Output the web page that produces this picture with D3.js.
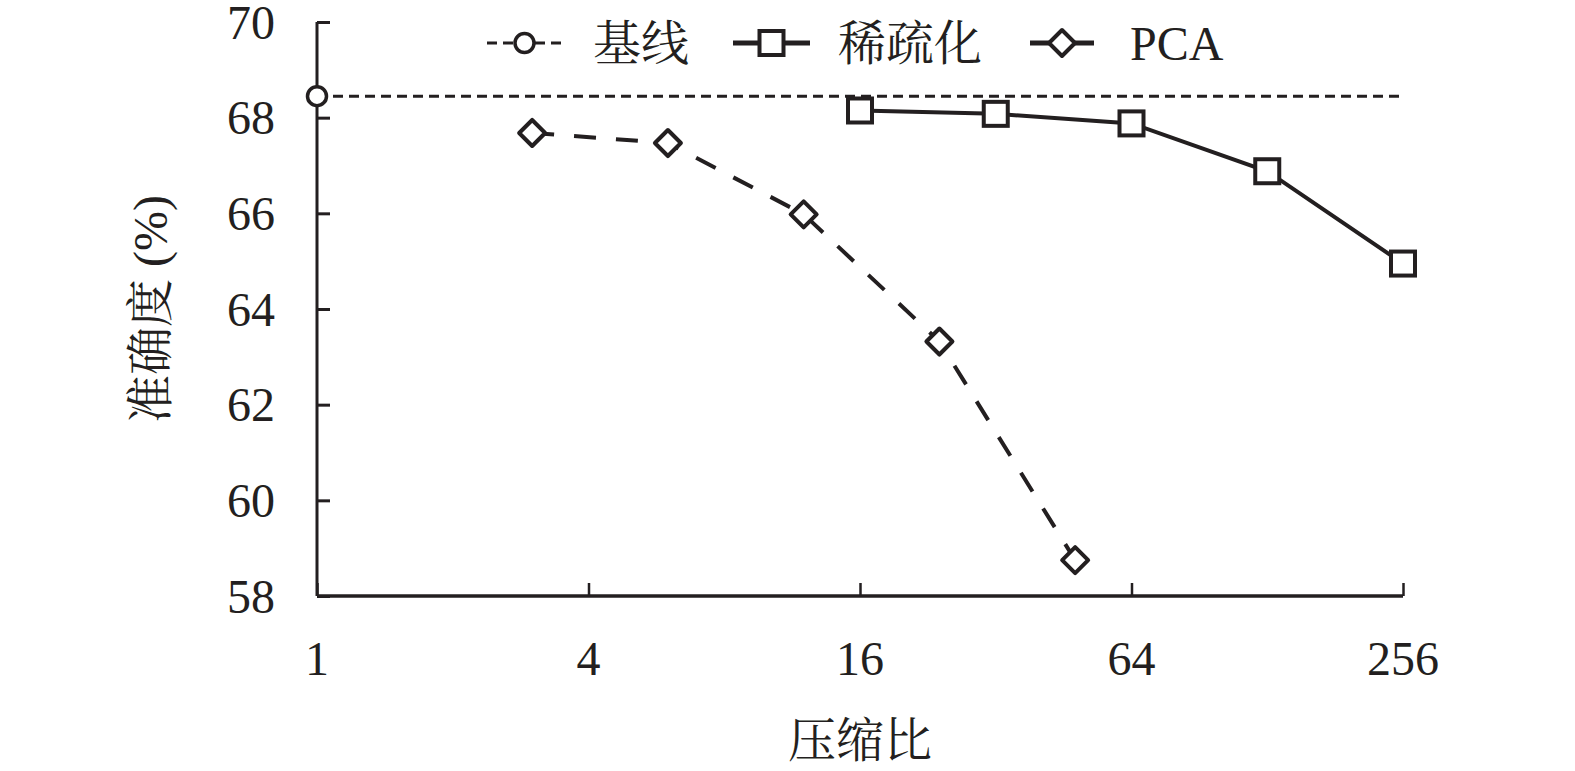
<!DOCTYPE html>
<html>
<head>
<meta charset="utf-8">
<script src="https://cdn.jsdelivr.net/npm/d3@7"></script>
<style>
  body { margin: 0; background: #fff; }
  svg { display: block; }
  text { font-family: "Liberation Serif", "Noto Serif CJK SC", "Noto Sans CJK SC", serif; fill: #231f20; }
</style>
</head>
<body>
<svg id="chart"></svg>
<script>
// data
const baselineRatio = 1;
const baselineAcc = 68.45;
const sparseRatios = [16, 32, 64, 128, 256];
const sparseAcc = [68.15, 68.08, 67.88, 66.88, 64.95];
const pcaRatios = [3, 6, 12, 24, 48];
const pcaAcc = [67.68, 67.47, 65.98, 63.32, 58.75];
const xTicks = [1, 4, 16, 64, 256];
const yTicks = [58, 60, 62, 64, 66, 68, 70];
const legendNames = ["基线", "稀疏化", "PCA"];

const config = {
    width: 1575,
    height: 771,
    margin: { top: 22, right: 172, bottom: 175, left: 317 },
    ink: "#231f20",
    fontSize: 48
};

const svg = d3.select("#chart")
    .attr("width", config.width)
    .attr("height", config.height);

const innerW = config.width - config.margin.left - config.margin.right;
const innerH = config.height - config.margin.top - config.margin.bottom;

const chart = svg.append("g")
    .attr("transform", `translate(${config.margin.left}, ${config.margin.top})`);

const x = d3.scaleLog().base(2).domain([1, 256]).range([0, innerW]);
const y = d3.scaleLinear().domain([58, 70]).range([innerH, 0]);

// axes
const yAxis = chart.append("g")
    .call(d3.axisRight(y).tickValues(yTicks).tickSize(13).tickFormat(""));
yAxis.select(".domain").attr("stroke", config.ink).attr("stroke-width", 3)
    .attr("d", `M0,0V${innerH}`);
yAxis.selectAll(".tick line").attr("stroke", config.ink).attr("stroke-width", 3);

yTicks.forEach(v => {
    chart.append("text")
        .attr("x", -42)
        .attr("y", y(v))
        .attr("dy", "0.35em")
        .attr("text-anchor", "end")
        .style("font-size", config.fontSize)
        .text(v);
});

const xAxis = chart.append("g")
    .attr("transform", `translate(0, ${innerH})`)
    .call(d3.axisTop(x).tickValues(xTicks).tickSize(13).tickFormat(""));
xAxis.select(".domain").attr("stroke", config.ink).attr("stroke-width", 3.5)
    .attr("d", `M0,0H${innerW}`);
xAxis.selectAll(".tick line").attr("stroke", config.ink).attr("stroke-width", 2.5);

xTicks.forEach(v => {
    chart.append("text")
        .attr("x", x(v))
        .attr("y", innerH + 79)
        .attr("text-anchor", "middle")
        .style("font-size", config.fontSize)
        .text(v);
});

svg.append("text")
    .attr("x", config.margin.left + x(16))
    .attr("y", 757)
    .attr("text-anchor", "middle")
    .style("font-size", config.fontSize)
    .text("压缩比");

svg.append("text")
    .attr("transform", `translate(167, ${config.margin.top + y(64)}) rotate(-90)`)
    .attr("text-anchor", "middle")
    .style("font-size", config.fontSize)
    .text("准确度 (%)");

// markers
function circleMark(g, cx, cy) {
    g.append("circle").attr("cx", cx).attr("cy", cy).attr("r", 9.5)
        .attr("fill", "#fff").attr("stroke", config.ink).attr("stroke-width", 3.5);
}
function squareMark(g, cx, cy) {
    g.append("rect").attr("x", cx - 12).attr("y", cy - 12).attr("width", 24).attr("height", 24)
        .attr("fill", "#fff").attr("stroke", config.ink).attr("stroke-width", 4);
}
function diamondMark(g, cx, cy) {
    const r = 13;
    g.append("path").attr("d", `M${cx},${cy - r}L${cx + r},${cy}L${cx},${cy + r}L${cx - r},${cy}Z`)
        .attr("fill", "#fff").attr("stroke", config.ink).attr("stroke-width", 4)
        .attr("stroke-linejoin", "round");
}

// baseline
chart.append("line")
    .attr("x1", x(baselineRatio)).attr("x2", x(256))
    .attr("y1", y(baselineAcc)).attr("y2", y(baselineAcc))
    .attr("stroke", config.ink).attr("stroke-width", 3)
    .attr("stroke-dasharray", "10,6");
circleMark(chart, x(baselineRatio), y(baselineAcc));

const line = d3.line().x(d => x(d[0])).y(d => y(d[1]));

// sparsification
const sparse = sparseRatios.map((r, i) => [r, sparseAcc[i]]);
chart.append("path").datum(sparse)
    .attr("d", line).attr("fill", "none")
    .attr("stroke", config.ink).attr("stroke-width", 4);
sparse.forEach(d => squareMark(chart, x(d[0]), y(d[1])));

// pca
const pca = pcaRatios.map((r, i) => [r, pcaAcc[i]]);
chart.append("path").datum(pca)
    .attr("d", line).attr("fill", "none")
    .attr("stroke", config.ink).attr("stroke-width", 4)
    .attr("stroke-dasharray", "22,20");
pca.forEach(d => diamondMark(chart, x(d[0]), y(d[1])));

// legend
const legend = svg.append("g");
const ly = 43;
const items = [
    { x0: 487, x1: 562, text: 593, dash: "10,6", width: 3, mark: circleMark },
    { x0: 733, x1: 810, text: 838, dash: null, width: 5, mark: squareMark },
    { x0: 1030, x1: 1094, text: 1130, dash: null, width: 5, mark: diamondMark }
];
items.forEach((it, i) => {
    legend.append("line")
        .attr("x1", it.x0).attr("x2", it.x1).attr("y1", ly).attr("y2", ly)
        .attr("stroke", config.ink).attr("stroke-width", it.width)
        .attr("stroke-dasharray", it.dash);
    it.mark(legend, (it.x0 + it.x1) / 2, ly);
    legend.append("text")
        .attr("x", it.text).attr("y", ly)
        .attr("dy", "0.35em")
        .style("font-size", config.fontSize)
        .text(legendNames[i]);
});
</script>
</body>
</html>
